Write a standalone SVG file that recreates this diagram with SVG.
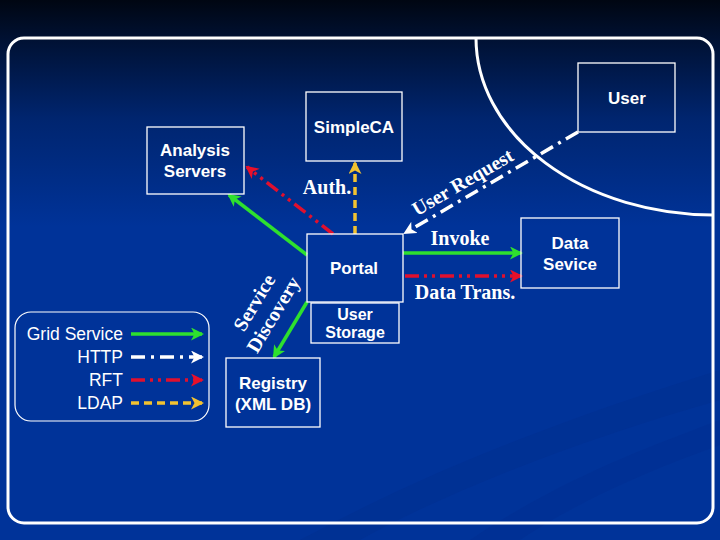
<svg xmlns="http://www.w3.org/2000/svg" width="720" height="540" viewBox="0 0 720 540">
<defs>
<linearGradient id="bg" x1="0" y1="0" x2="0" y2="540" gradientUnits="userSpaceOnUse">
<stop offset="0" stop-color="#000612"/>
<stop offset="0.08" stop-color="#001236"/>
<stop offset="0.22" stop-color="#00256f"/>
<stop offset="0.42" stop-color="#003399"/>
<stop offset="1" stop-color="#003399"/>
</linearGradient>
<marker id="aG" markerUnits="userSpaceOnUse" markerWidth="13" markerHeight="13" refX="11" refY="6.5" orient="auto" viewBox="0 0 13 13"><path d="M0,0 L13,6.5 L0,13 L3.5,6.5 z" fill="#2ee02e"/></marker>
<marker id="aW" markerUnits="userSpaceOnUse" markerWidth="13" markerHeight="13" refX="11" refY="6.5" orient="auto" viewBox="0 0 13 13"><path d="M0,0 L13,6.5 L0,13 L3.5,6.5 z" fill="#ffffff"/></marker>
<marker id="aR" markerUnits="userSpaceOnUse" markerWidth="13" markerHeight="13" refX="11" refY="6.5" orient="auto" viewBox="0 0 13 13"><path d="M0,0 L13,6.5 L0,13 L3.5,6.5 z" fill="#e8102a"/></marker>
<marker id="aY" markerUnits="userSpaceOnUse" markerWidth="13" markerHeight="13" refX="11" refY="6.5" orient="auto" viewBox="0 0 13 13"><path d="M0,0 L13,6.5 L0,13 L3.5,6.5 z" fill="#f2c230"/></marker>
</defs>
<style>
.box{fill:none;stroke:#ffffff;stroke-width:1.3}
.lbl{font-family:"Liberation Sans",Arial,sans-serif;font-weight:bold;font-size:17px;fill:#ffffff;text-anchor:middle}
.sm{font-size:16px}
.leg{font-family:"Liberation Sans",Arial,sans-serif;font-size:17.5px;fill:#ffffff;text-anchor:end}
.tm{font-family:"Liberation Serif","Times New Roman",serif;font-weight:bold;font-size:20px;fill:#ffffff;text-anchor:middle}
.g{stroke:#2ee02e;stroke-width:3.5;fill:none;marker-end:url(#aG)}
.w{stroke:#ffffff;stroke-width:3.5;fill:none;stroke-dasharray:14 6 3 6;marker-end:url(#aW)}
.r{stroke:#e0102e;stroke-width:3.5;fill:none;stroke-dasharray:14 5 3 5 3 5;marker-end:url(#aR)}
.y{stroke:#f2c230;stroke-width:3.5;fill:none;stroke-dasharray:8 5;marker-end:url(#aY)}
</style>
<rect x="0" y="0" width="720" height="540" fill="url(#bg)"/>
<path d="M300,540 C430,470 560,420 720,370 L720,400 C580,440 450,490 360,540 Z" fill="#002e8e" opacity="0.45"/>
<path d="M470,540 C560,480 640,450 720,420 L720,445 C650,470 580,500 520,540 Z" fill="#002e8e" opacity="0.4"/>
<g id="frame">
<rect x="8" y="38" width="705" height="485" rx="16" ry="16" fill="none" stroke="#ffffff" stroke-width="3"/>
<path d="M476,38 A238,177 0 0 0 713,215" fill="none" stroke="#ffffff" stroke-width="3"/>
</g>
<g id="connectors">
<line class="g" x1="307" y1="255" x2="229" y2="195"/>
<line class="r" x1="333" y1="234" x2="247" y2="167"/>
<line class="y" x1="355" y1="234" x2="355" y2="163"/>
<line class="w" x1="578" y1="132" x2="405" y2="233"/>
<line class="g" x1="403" y1="253" x2="521" y2="253"/>
<line class="r" x1="405" y1="276" x2="521" y2="276"/>
<line class="g" x1="307" y1="302" x2="274" y2="357"/>
<text class="tm" x="327" y="194">Auth.</text>
<text class="tm" x="466" y="188" font-size="21" transform="rotate(-30.2 466 188)">User Request</text>
<text class="tm" x="460" y="245">Invoke</text>
<text class="tm" x="465" y="299">Data Trans.</text>
<text class="tm" x="260" y="306" transform="rotate(-59 260 306)">Service</text>
<text class="tm" x="279" y="318" transform="rotate(-59 279 318)">Discovery</text>
</g>
<g id="user">
<rect class="box" x="578" y="63" width="97" height="69"/>
<text class="lbl" x="627" y="104">User</text>
</g>
<g id="simpleca">
<rect class="box" x="306" y="92" width="96" height="69"/>
<text class="lbl" x="354" y="133">SimpleCA</text>
</g>
<g id="analysis">
<rect class="box" x="147" y="127" width="97" height="67"/>
<text class="lbl" x="195" y="156">Analysis</text>
<text class="lbl" x="195" y="177">Servers</text>
</g>
<g id="portal">
<rect class="box" x="307" y="234" width="96" height="68"/>
<text class="lbl" x="354" y="274">Portal</text>
</g>
<g id="userstorage">
<rect class="box" x="311" y="303" width="88" height="40"/>
<text class="lbl sm" x="355" y="320">User</text>
<text class="lbl sm" x="355" y="338">Storage</text>
</g>
<g id="registry">
<rect class="box" x="226" y="358" width="94" height="69"/>
<text class="lbl" x="273" y="389">Registry</text>
<text class="lbl" x="273" y="410">(XML DB)</text>
</g>
<g id="dataservice">
<rect class="box" x="521" y="218" width="98" height="70"/>
<text class="lbl" x="570" y="249">Data</text>
<text class="lbl" x="570" y="270">Sevice</text>
</g>
<g id="legend">
<rect x="15" y="312" width="194" height="109" rx="16" ry="16" fill="none" stroke="#ffffff" stroke-width="1.2"/>
<text class="leg" x="123" y="340">Grid Service</text>
<text class="leg" x="123" y="363">HTTP</text>
<text class="leg" x="123" y="386">RFT</text>
<text class="leg" x="123" y="409">LDAP</text>
<line class="g" x1="131" y1="334" x2="202" y2="334"/>
<line class="w" x1="131" y1="357" x2="202" y2="357"/>
<line class="r" x1="131" y1="380" x2="202" y2="380"/>
<line class="y" x1="131" y1="403" x2="202" y2="403"/>
</g>
</svg>
